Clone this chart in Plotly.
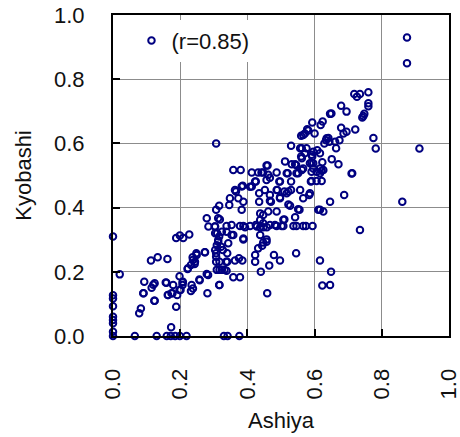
import plotly.graph_objects as go

# Paired observations: Ashiya (x) vs Kyobashi (y)
ashiya = [
    0.875, 0.875,
    0.718, 0.735, 0.76, 0.726, 0.76, 0.76, 0.679, 0.695, 0.748, 0.742, 0.65,
    0.593, 0.624, 0.618, 0.679, 0.695, 0.686, 0.721, 0.578, 0.571, 0.6, 0.56,
    0.775, 0.782, 0.912, 0.641, 0.634, 0.629, 0.674, 0.661, 0.664,
    0.651, 0.671, 0.71, 0.623, 0.616, 0.621, 0.596, 0.596, 0.591,
    0.606, 0.621, 0.591, 0.593, 0.596, 0.608, 0.576, 0.562, 0.571, 0.562, 0.566,
    0.646, 0.745, 0.566, 0.581, 0.636, 0.644, 0.616,
    0.307, 0.53, 0.557, 0.56, 0.591, 0.591, 0.512, 0.532, 0.542, 0.457,
    0.358, 0.38, 0.413, 0.432, 0.447, 0.462, 0.487, 0.52, 0.546, 0.562, 0.616, 0.626, 0.712,
    0.425, 0.457, 0.495, 0.53, 0.589, 0.467, 0.383, 0.413, 0.452, 0.487, 0.522, 0.557,
    0.363, 0.435, 0.467, 0.497, 0.51, 0.53, 0.584, 0.566, 0.688, 0.646, 0.861,
    0.348, 0.373, 0.388, 0.435, 0.467, 0.527, 0.551, 0.616, 0.626,
    0.316, 0.346, 0.307, 0.383, 0.438, 0.462, 0.487, 0.313, 0.279, 0.542, 0.507,
    0.425, 0.447, 0.467,
    0.284, 0.304, 0.338, 0.353, 0.378, 0.388, 0.408, 0.428, 0.482, 0.502, 0.537,
    0.566, 0.594, 0.735, 0.546,
    0.408, 0.517, 0.586, 0.47, 0.497, 0.522, 0.555, 0.611, 0.447, 0.438, 0.51,
    0.318, 0.393, 0.438, 0.448, 0.458, 0.487, 0.507, 0.574, 0.304, 0.358, 0.388,
    0.457, 0.438, 0.423, 0.386, 0.366, 0.442, 0.46, 0.545, 0.586, 0.606, 0.551,
    0.517, 0.497, 0.489,
    0.0, 0.02, 0.188, 0.199, 0.209, 0.227,
    0.113, 0.133, 0.162, 0.093, 0.12, 0.115, 0.157, 0.09, 0.123, 0.083, 0.078,
    0.188, 0.173,
    0.163, 0.177, 0.191, 0.179, 0.198, 0.207, 0.207, 0.198, 0.234, 0.232, 0.257,
    0.281, 0.279, 0.316,
    0.222, 0.232, 0.244, 0.237, 0.249, 0.274, 0.307, 0.304, 0.309, 0.313, 0.309,
    0.324, 0.338, 0.307, 0.307,
    0.324, 0.338, 0.353, 0.343, 0.358, 0.378, 0.34, 0.363, 0.385, 0.375, 0.34, 0.388,
    0.423, 0.423, 0.432, 0.447, 0.457, 0.444, 0.465, 0.479, 0.497, 0.44, 0.459,
    0.545, 0.616, 0.649, 0.623, 0.646,
    0.124, 0.159, 0.208, 0.201, 0.174, 0.164, 0.124, 0.091, 0.238, 0.258, 0.283,
    0.317, 0.223, 0.243, 0.238, 0.248, 0.273,
    0.31, 0.316, 0.303, 0.313, 0.322, 0.327, 0.317, 0.337, 0.317, 0.332,
    0.0, 0.065, 0.13, 0.16, 0.172, 0.185, 0.199, 0.219, 0.33, 0.341, 0.376,
    0.0, 0.0, 0.0, 0.0, 0.0, 0.0, 0.0,
]

kyobashi = [
    0.93, 0.85,
    0.754, 0.754, 0.759, 0.745, 0.725, 0.716, 0.717, 0.699, 0.692, 0.681, 0.693,
    0.665, 0.668, 0.657, 0.649, 0.636, 0.631, 0.643, 0.644, 0.631, 0.631, 0.624,
    0.617, 0.584, 0.584, 0.617, 0.61, 0.6, 0.61, 0.605, 0.585,
    0.551, 0.535, 0.506, 0.541, 0.522, 0.515, 0.522, 0.538, 0.512,
    0.483, 0.483, 0.483, 0.559, 0.574, 0.579, 0.585, 0.585, 0.569, 0.554, 0.522,
    0.692, 0.685, 0.626, 0.64, 0.616, 0.605, 0.569,
    0.6, 0.593, 0.585, 0.559, 0.565, 0.54, 0.544, 0.535, 0.535, 0.531,
    0.517, 0.517, 0.509, 0.509, 0.509, 0.502, 0.509, 0.507, 0.507, 0.517, 0.507, 0.517, 0.507,
    0.481, 0.486, 0.481, 0.481, 0.481, 0.493, 0.466, 0.466, 0.455, 0.455, 0.45, 0.455,
    0.455, 0.445, 0.439, 0.432, 0.45, 0.455, 0.439, 0.429, 0.439, 0.418, 0.418,
    0.429, 0.429, 0.418, 0.418, 0.421, 0.406, 0.395, 0.393, 0.388,
    0.406, 0.408, 0.393, 0.393, 0.382, 0.388, 0.388, 0.367, 0.367, 0.37, 0.362,
    0.346, 0.351, 0.346,
    0.341, 0.341, 0.343, 0.346, 0.343, 0.343, 0.343, 0.341, 0.346, 0.343, 0.343,
    0.343, 0.343, 0.33, 0.343,
    0.465, 0.445, 0.445, 0.418, 0.429, 0.41, 0.393, 0.393, 0.377, 0.361, 0.363,
    0.363, 0.339, 0.339, 0.339, 0.339, 0.343, 0.343, 0.343, 0.32, 0.315, 0.304,
    0.301, 0.315, 0.481, 0.468, 0.45, 0.509, 0.531, 0.533, 0.538, 0.512, 0.507,
    0.507, 0.481, 0.455,
    0.31, 0.192, 0.305, 0.313, 0.305, 0.316,
    0.235, 0.245, 0.24, 0.169, 0.16, 0.15, 0.167, 0.133, 0.11, 0.086, 0.071,
    0.091, 0.027,
    0.128, 0.133, 0.128, 0.159, 0.186, 0.167, 0.159, 0.143, 0.159, 0.14, 0.176,
    0.133, 0.193, 0.159,
    0.209, 0.221, 0.231, 0.245, 0.252, 0.261, 0.258, 0.268, 0.283, 0.294, 0.206,
    0.206, 0.203, 0.231, 0.247,
    0.325, 0.325, 0.315, 0.289, 0.183, 0.183, 0.258, 0.235, 0.235, 0.242, 0.231, 0.301,
    0.252, 0.231, 0.273, 0.291, 0.294, 0.281, 0.22, 0.252, 0.235, 0.2, 0.133,
    0.258, 0.235, 0.2, 0.157, 0.159,
    0.164, 0.166, 0.169, 0.143, 0.133, 0.128, 0.11, 0.133, 0.148, 0.174, 0.19,
    0.159, 0.211, 0.224, 0.237, 0.258, 0.261,
    0.32, 0.31, 0.341, 0.299, 0.278, 0.268, 0.231, 0.231, 0.206, 0.206,
    0.0, 0.0, 0.0, 0.0, 0.0, 0.0, 0.0, 0.0, 0.0, 0.0, 0.0,
    0.127, 0.117, 0.093, 0.06, 0.05, 0.04, 0.013,
]

tick_vals = [0.0, 0.2, 0.4, 0.6, 0.8, 1.0]
tick_text = ["0.0", "0.2", "0.4", "0.6", "0.8", "1.0"]

NAVY = "#000080"
FONT = "Liberation Sans, Arial, sans-serif"

fig = go.Figure()
fig.add_trace(go.Scatter(
    x=ashiya, y=kyobashi,
    mode="markers",
    name="(r=0.85)",
    cliponaxis=False,
    marker=dict(symbol="circle-open", size=6.5, color=NAVY, line=dict(width=2, color=NAVY)),
))

axis_common = dict(
    range=[0, 1],
    tickvals=tick_vals,
    ticktext=tick_text,
    showgrid=True,
    gridcolor="#8c8c8c",
    gridwidth=1,
    zeroline=False,
    showline=True,
    linecolor="black",
    linewidth=2,
    mirror=True,
    ticks="inside",
    ticklen=7,
    tickwidth=2,
    tickcolor="black",
    tickfont=dict(family=FONT, size=22, color="#111111"),
    ticklabelstandoff=22,
    ticklabeloverflow="allow",
    automargin=False,
)

fig.update_layout(
    width=460,
    height=437,
    margin=dict(l=113, r=11, t=15, b=101),
    paper_bgcolor="white",
    plot_bgcolor="white",
    font=dict(family=FONT, size=22, color="#111111"),
    showlegend=True,
    legend=dict(
        x=0.055, y=0.985, xanchor="left", yanchor="top",
        bgcolor="white", borderwidth=0,
        font=dict(family=FONT, size=22, color="#111111"),
        itemwidth=30,
    ),
    xaxis=dict(**axis_common, tickangle=-90,
               title=dict(text="Ashiya", font=dict(family=FONT, size=22), standoff=14)),
    yaxis=dict(**axis_common,
               title=dict(text="Kyobashi", font=dict(family=FONT, size=22), standoff=16)),
)

fig.write_html("out.html")
